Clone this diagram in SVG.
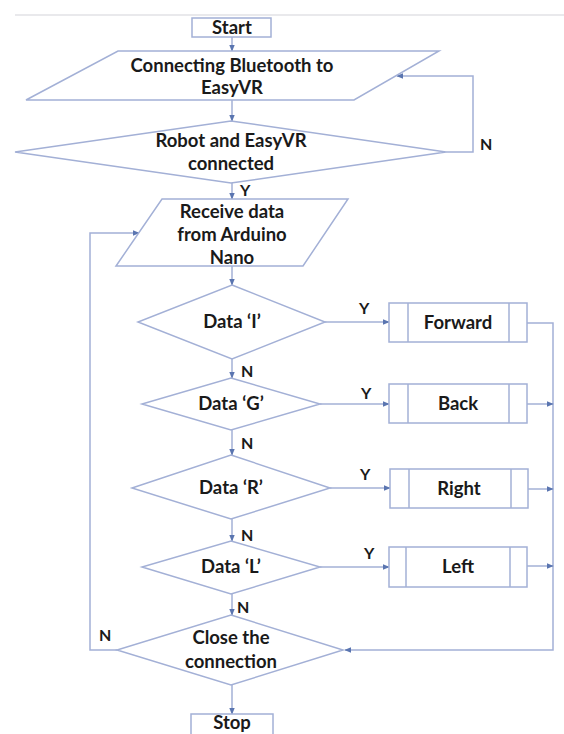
<svg xmlns="http://www.w3.org/2000/svg" width="564" height="734" viewBox="0 0 564 734">
<defs>
<marker id="ah" viewBox="0 0 10 10" refX="9" refY="5" markerWidth="7" markerHeight="7" orient="auto" markerUnits="userSpaceOnUse">
<path d="M0,1 L10,5 L0,9 z" fill="#5a75b0"/>
</marker>
</defs>
<style>
.s{fill:#ffffff;stroke:#a3b0d6;stroke-width:1.5}
.c{fill:none;stroke:#a3b0d6;stroke-width:1.5}
.a{marker-end:url(#ah)}
text{font-family:Lato,"Open Sans","Liberation Sans",sans-serif;font-weight:bold;font-size:18.5px;fill:#1a1a1a;text-anchor:middle}
.l{font-size:16px;text-anchor:start}
</style>
<rect width="564" height="734" fill="#ffffff"/>
<line x1="15" y1="15" x2="564" y2="15" stroke="#e2e2e6" stroke-width="1.5"/>
<g id="connectors">
<line class="c a" x1="232" y1="37" x2="232" y2="51"/>
<line class="c a" x1="232" y1="100" x2="232" y2="121"/>
<polyline class="c a" points="446,152 473,152 473,76 397,76"/>
<line class="c a" x1="232" y1="183" x2="232" y2="199"/>
<line class="c a" x1="232" y1="266" x2="232" y2="285"/>
<line class="c a" x1="325" y1="322" x2="389" y2="322"/>
<line class="c a" x1="232" y1="359" x2="232" y2="378"/>
<line class="c a" x1="320" y1="404" x2="389" y2="404"/>
<line class="c a" x1="232" y1="430" x2="232" y2="455"/>
<line class="c a" x1="330" y1="488" x2="390" y2="488"/>
<line class="c a" x1="232" y1="519" x2="232" y2="541"/>
<line class="c a" x1="320" y1="567" x2="389" y2="567"/>
<line class="c a" x1="232" y1="594" x2="232" y2="615"/>
<polyline class="c a" points="527,323 553,323 553,650 345,650"/>
<line class="c a" x1="527" y1="404" x2="553" y2="404"/>
<line class="c a" x1="528" y1="489" x2="553" y2="489"/>
<line class="c a" x1="527" y1="566" x2="553" y2="566"/>
<polyline class="c a" points="117,650 90,650 90,233 139,233"/>
<line class="c a" x1="232" y1="685" x2="232" y2="714"/>
<text class="l" x="480" y="150">N</text>
<text class="l" x="240" y="196">Y</text>
<text class="l" x="359" y="314">Y</text>
<text class="l" x="241" y="377">N</text>
<text class="l" x="361" y="399">Y</text>
<text class="l" x="241" y="449">N</text>
<text class="l" x="360" y="480">Y</text>
<text class="l" x="241" y="541">N</text>
<text class="l" x="364" y="559">Y</text>
<text class="l" x="237" y="613">N</text>
<text class="l" x="99" y="641">N</text>
</g>
<g id="start">
<rect class="s" x="192" y="18" width="79" height="19"/>
<text x="232" y="34">Start</text>
</g>
<g id="connect-bt">
<polygon class="s" points="118,51 439,51 354,100 26,100"/>
<text x="232" y="72">Connecting Bluetooth to</text>
<text x="232" y="94">EasyVR</text>
</g>
<g id="robot-connected">
<polygon class="s" points="231,121 446,152 231,183 15,152"/>
<text x="231" y="147">Robot and EasyVR</text>
<text x="231" y="170">connected</text>
</g>
<g id="receive-data">
<polygon class="s" points="162,199 348,199 303,266 116,266"/>
<text x="232" y="218">Receive data</text>
<text x="232" y="241">from Arduino</text>
<text x="232" y="264">Nano</text>
</g>
<g id="data-i">
<polygon class="s" points="232,285 325,322 232,359 138,322"/>
<text x="232" y="328">Data ‘I’</text>
</g>
<g id="forward">
<rect class="s" x="389" y="303" width="138" height="39"/>
<line class="c" x1="408" y1="303" x2="408" y2="342"/>
<line class="c" x1="509" y1="303" x2="509" y2="342"/>
<text x="458" y="329">Forward</text>
</g>
<g id="data-g">
<polygon class="s" points="231,378 320,404 231,430 142,404"/>
<text x="231" y="410">Data ‘G’</text>
</g>
<g id="back">
<rect class="s" x="389" y="384" width="138" height="39"/>
<line class="c" x1="408" y1="384" x2="408" y2="423"/>
<line class="c" x1="509" y1="384" x2="509" y2="423"/>
<text x="458" y="410">Back</text>
</g>
<g id="data-r">
<polygon class="s" points="231,455 330,488 231,519 132,488"/>
<text x="231" y="494">Data ‘R’</text>
</g>
<g id="right">
<rect class="s" x="390" y="469" width="138" height="39"/>
<line class="c" x1="409" y1="469" x2="409" y2="508"/>
<line class="c" x1="511" y1="469" x2="511" y2="508"/>
<text x="459" y="495">Right</text>
</g>
<g id="data-l">
<polygon class="s" points="231,541 320,567 231,594 142,567"/>
<text x="231" y="573">Data ‘L’</text>
</g>
<g id="left">
<rect class="s" x="389" y="547" width="138" height="40"/>
<line class="c" x1="406" y1="547" x2="406" y2="587"/>
<line class="c" x1="510" y1="547" x2="510" y2="587"/>
<text x="458" y="573">Left</text>
</g>
<g id="close">
<polygon class="s" points="231,615 343,650 231,685 117,650"/>
<text x="231" y="644">Close the</text>
<text x="231" y="668">connection</text>
</g>
<g id="stop">
<rect class="s" x="191" y="714" width="82" height="24"/>
<text x="232" y="729">Stop</text>
</g>
</svg>
